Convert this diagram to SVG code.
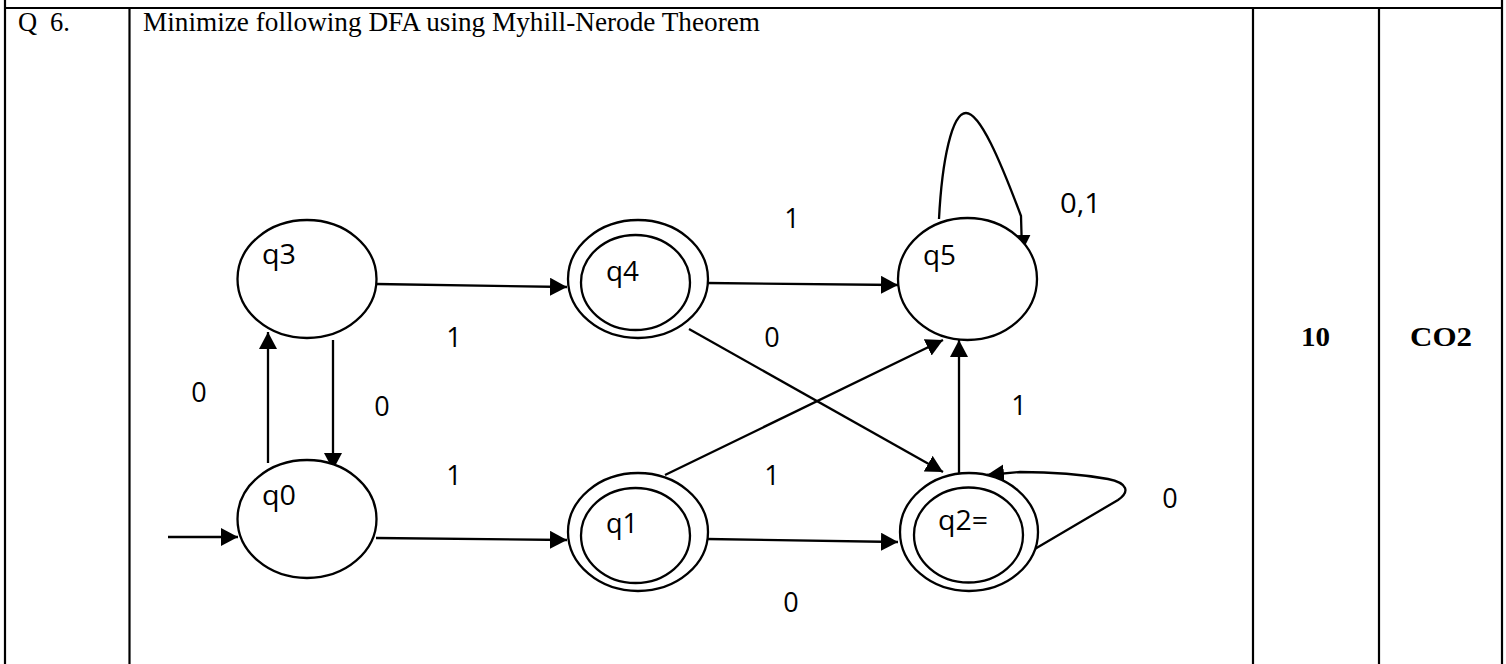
<svg xmlns="http://www.w3.org/2000/svg" width="1506" height="664" viewBox="0 0 1506 664">
  <style>
    .grid { stroke: #000; stroke-width: 2.2; fill: none; }
    .state { stroke: #000; stroke-width: 2.3; fill: #fff; }
    .edge { stroke: #000; stroke-width: 2.3; fill: none; marker-end: url(#arrow); }
    .serif { font-family: "Liberation Serif", "Times New Roman", serif; font-size: 26.5px; fill: #000; }
    .bold { font-weight: bold; font-size: 28px; }
    .lbl { font-family: "Open Sans", "Noto Sans", "Liberation Sans", sans-serif; font-size: 27px; fill: #000; }
    .mid { text-anchor: middle; }
  </style>
  <defs>
    <marker id="arrow" markerUnits="userSpaceOnUse" markerWidth="18" markerHeight="19" refX="17" refY="9" orient="auto">
      <path d="M0,0 L17,9 L0,18 Z" fill="#000"/>
    </marker>
  </defs>
  <rect width="1506" height="664" fill="#fff"/>

  <!-- question table row -->
  <g id="table">
    <line class="grid" x1="5" y1="0" x2="5" y2="664"/>
    <line class="grid" x1="1502" y1="0" x2="1502" y2="664"/>
    <line class="grid" x1="4" y1="8" x2="1503" y2="8"/>
    <line class="grid" x1="129.5" y1="8" x2="129.5" y2="664"/>
    <line class="grid" x1="1253" y1="8" x2="1253" y2="664"/>
    <line class="grid" x1="1379" y1="8" x2="1379" y2="664"/>
    <text class="serif" x="18" y="31">Q<tspan x="50">6.</tspan></text>
    <text class="serif" x="143" y="31" textLength="617" lengthAdjust="spacingAndGlyphs">Minimize following DFA using Myhill-Nerode Theorem</text>
    <text class="serif bold" x="1301" y="346" textLength="29" lengthAdjust="spacingAndGlyphs">10</text>
    <text class="serif bold" x="1410" y="346" textLength="62" lengthAdjust="spacingAndGlyphs">CO2</text>
  </g>

  <!-- transitions -->
  <g id="connectors">
    <line class="edge" x1="168" y1="537" x2="238" y2="537"/>
    <line class="edge" x1="268" y1="463" x2="268" y2="332"/>
    <line class="edge" x1="333" y1="340" x2="333" y2="470"/>
    <line class="edge" x1="376" y1="284" x2="567" y2="287"/>
    <line class="edge" x1="376" y1="538" x2="567" y2="540"/>
    <line class="edge" x1="707" y1="283" x2="898" y2="285"/>
    <line class="edge" x1="707" y1="539" x2="898" y2="542"/>
    <line class="edge" x1="689" y1="329" x2="943" y2="472"/>
    <line class="edge" x1="665" y1="475" x2="943" y2="340"/>
    <line class="edge" x1="959" y1="473" x2="959" y2="340"/>
    <path class="edge" d="M939,219 C942,160 952,113 966,113 C980,113 1000,160 1021,216 L1022,252"/>
    <path class="edge" d="M1028,553 L1118,500 C1130,492 1128,483 1108,479 C1080,474 1050,472 1020,472 L987,475"/>

    <text class="lbl mid" x="199" y="402">0</text>
    <text class="lbl mid" x="382" y="416">0</text>
    <text class="lbl mid" x="454" y="347">1</text>
    <text class="lbl mid" x="454" y="485">1</text>
    <text class="lbl mid" x="792" y="228">1</text>
    <text class="lbl mid" x="772" y="347">0</text>
    <text class="lbl mid" x="772" y="485">1</text>
    <text class="lbl mid" x="791" y="612">0</text>
    <text class="lbl mid" x="1019" y="415">1</text>
    <text class="lbl mid" x="1170" y="508">0</text>
    <text class="lbl" x="1060" y="213" textLength="41" lengthAdjust="spacingAndGlyphs">0,1</text>
  </g>

  <!-- states -->
  <g id="q3">
    <ellipse class="state" cx="307" cy="279" rx="69.5" ry="59"/>
    <text class="lbl" x="262" y="264" textLength="34" lengthAdjust="spacingAndGlyphs">q3</text>
  </g>
  <g id="q0">
    <ellipse class="state" cx="307" cy="519" rx="69.5" ry="59"/>
    <text class="lbl" x="262" y="505" textLength="34" lengthAdjust="spacingAndGlyphs">q0</text>
  </g>
  <g id="q4">
    <ellipse class="state" cx="638" cy="279" rx="70" ry="59"/>
    <ellipse class="state" cx="635.5" cy="282.5" rx="54.5" ry="47.5"/>
    <text class="lbl" x="606" y="281" textLength="33" lengthAdjust="spacingAndGlyphs">q4</text>
  </g>
  <g id="q1">
    <ellipse class="state" cx="638" cy="532" rx="70" ry="59"/>
    <ellipse class="state" cx="635.5" cy="535.5" rx="54.5" ry="47.5"/>
    <text class="lbl" x="606" y="533" textLength="32" lengthAdjust="spacingAndGlyphs">q1</text>
  </g>
  <g id="q5">
    <ellipse class="state" cx="967.5" cy="279" rx="69.5" ry="61"/>
    <text class="lbl" x="923" y="265" textLength="33" lengthAdjust="spacingAndGlyphs">q5</text>
  </g>
  <g id="q2">
    <ellipse class="state" cx="969" cy="532" rx="69" ry="59"/>
    <ellipse class="state" cx="968.5" cy="535" rx="54.5" ry="47.5"/>
    <text class="lbl" x="938" y="530" textLength="50" lengthAdjust="spacingAndGlyphs">q2=</text>
  </g>
</svg>
